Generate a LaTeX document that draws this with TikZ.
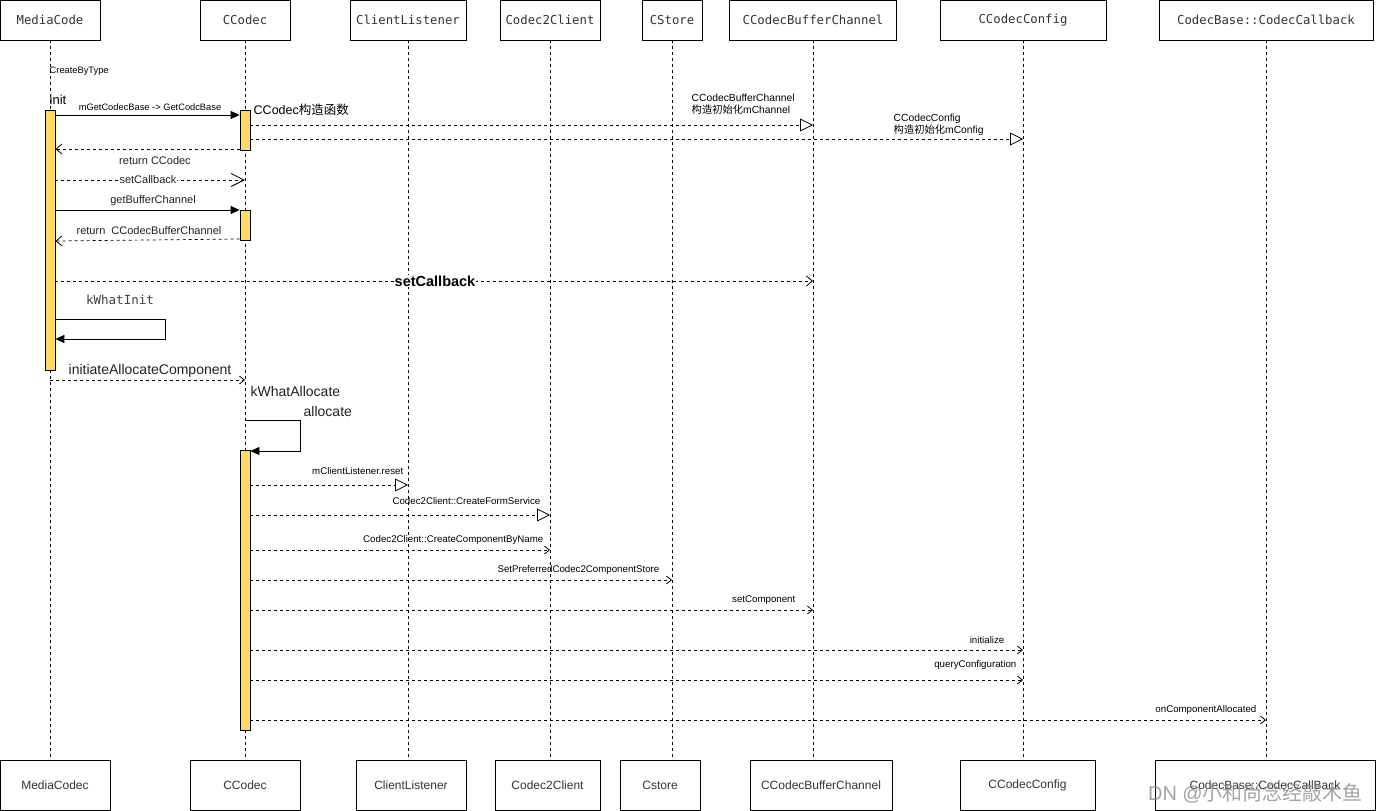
\documentclass[tikz,border=0pt]{standalone}
\usepackage{fontspec}
\setmainfont{Liberation Sans}
\newfontfamily\cjkf{Noto Sans CJK SC}
\newfontfamily\monof{DejaVu Sans Mono}
\usetikzlibrary{arrows.meta}
\definecolor{actY}{HTML}{FFD966}
\definecolor{txt}{HTML}{222222}
\tikzset{
  hdr/.style={draw, line width=0.8pt, minimum height=40pt, inner sep=0pt, font=\monof\fontsize{12.3}{14}\selectfont, text=black!80},
  ftr/.style={draw, line width=0.8pt, minimum height=50pt, inner sep=0pt, font=\fontsize{12}{14}\selectfont, text=black!80},
  life/.style={dash pattern=on 3pt off 3pt, line width=0.6pt},
  act/.style={draw, line width=0.8pt, fill=actY, minimum width=10pt, inner sep=0pt},
  sync/.style={line width=0.8pt, -{Triangle[length=9pt,width=8pt]}},
  dtri/.style={line width=0.7pt, dash pattern=on 3pt off 3pt, -{Triangle[fill=white,length=13pt,width=13pt,line width=0.8pt]}},
  dvee/.style={line width=0.7pt, dash pattern=on 3pt off 3pt, -{Straight Barb[length=6pt,width=10pt,line width=0.8pt]}},
  dveeS/.style={line width=0.7pt, dash pattern=on 3pt off 3pt, -{Straight Barb[length=5pt,width=8pt,line width=0.8pt]}},
  dveeL/.style={line width=0.7pt, dash pattern=on 3pt off 3pt, -{Straight Barb[length=13pt,width=13pt,line width=0.8pt]}},
  lbl/.style={inner sep=0.5pt, text=black, font=\fontsize{9.7}{11}\selectfont},
  lblm/.style={inner sep=0.5pt, text=txt, font=\fontsize{11}{13}\selectfont},
  lblb/.style={inner sep=0.5pt, text=txt, font=\fontsize{14}{16}\selectfont},
}
\begin{document}
\begin{tikzpicture}[x=1pt,y=-1pt]
\useasboundingbox (0,0) rectangle (1376,811);
\fill[white] (0,0) rectangle (1376,811);

% header boxes
\node[hdr, minimum width=100pt] (mcT) at (50,20) {MediaCode};
\node[hdr, minimum width=90pt]  (ccT) at (245,20) {CCodec};
\node[hdr, minimum width=116pt] (clT) at (408,20) {ClientListener};
\node[hdr, minimum width=100pt] (c2T) at (550,20) {Codec2Client};
\node[hdr, minimum width=60pt]  (csT) at (672,20) {CStore};
\node[hdr, minimum width=167pt] (bcT) at (813,20) {CCodecBufferChannel};
\node[hdr, minimum width=166pt] (cfT) at (1023,20) {CCodecConfig};
\node[hdr, minimum width=214pt] (cbT) at (1266,20) {CodecBase::CodecCallback};

% footer boxes
\node[ftr, minimum width=110pt] (mcB) at (55,785) {MediaCodec};
\node[ftr, minimum width=110pt] (ccB) at (245,785) {CCodec};
\node[ftr, minimum width=110pt] (clB) at (411,785) {ClientListener};
\node[ftr, minimum width=105pt] (c2B) at (547.5,785) {Codec2Client};
\node[ftr, minimum width=80pt]  (csB) at (660,785) {Cstore};
\node[ftr, minimum width=142pt] (bcB) at (821,785) {CCodecBufferChannel};
\node[ftr, minimum width=135pt] (cfB) at (1027.5,785) {CCodecConfig};
\node[ftr, minimum width=220pt] (cbB) at (1265,785) {CodecBase::CodecCallBack};

% lifelines
\foreach \t/\b in {mcT/mcB,ccT/ccB,clT/clB,c2T/c2B,csT/csB,bcT/bcB,cfT/cfB,cbT/cbB}{
  \draw[life] (\t.south) -- (\t.south |- \b.north);
}

% activation bars
\node[act, minimum height=260pt] (a1) at (50,240) {};
\node[act, minimum height=40pt]  (a2) at (245,130) {};
\node[act, minimum height=30pt]  (a3) at (245,225) {};
\node[act, minimum height=280pt] (a4) at (245,590) {};

% labels (top part)
\node[lbl, anchor=west, font=\fontsize{9.3}{11}\selectfont] (lCreate) at (49,71) {CreateByType};
\node[inner sep=0.5pt, anchor=west, text=black, font=\fontsize{13}{15}\selectfont] (lInit) at (49,100) {init};

% mGetCodecBase
\draw[sync] (a1.east |- 0,115) -- (a2.west |- 0,115);
\node[lbl, font=\fontsize{9.3}{11}\selectfont] (lGet) at (150,107) {mGetCodecBase -> GetCodcBase};
\node[inner sep=0.5pt, anchor=west, text=black, font=\fontsize{12.5}{14}\selectfont] (lCtor) at (253,110) {CCodec{\cjkf 构造函数}};

% constructors
\draw[dtri] (a2.east |- 0,125) -- (bcT.south |- 0,125);
\node[lbl, anchor=north west, align=left, font=\fontsize{10.3}{12}\selectfont] (lBc) at (691,93) {CCodecBufferChannel\\{\cjkf 构造初始化}mChannel};
\draw[dtri] (a2.east |- 0,139) -- (cfT.south |- 0,139);
\node[lbl, anchor=north west, align=left, font=\fontsize{10.3}{12}\selectfont] (lCf) at (893,113) {CCodecConfig\\{\cjkf 构造初始化}mConfig};

% return CCodec
\draw[dvee] (a2.west |- 0,149) -- (a1.east |- 0,149);
\node[lblm] (lRet) at (155,161) {return CCodec};

% setCallback small
\draw[dveeL] (a1.east |- 0,180) -- (ccT.south |- 0,180);
\node[lblm, fill=white] (lSetCb) at (148,180) {setCallback};

% getBufferChannel
\draw[sync] (a1.east |- 0,210) -- (a3.west |- 0,210);
\node[lblm] (lGbc) at (153,201) {getBufferChannel};
\draw[dvee] (a3.west |- 0,239) -- (a1.east |- 0,241);
\node[lblm] (lRbc) at (149,231) {return\ \ CCodecBufferChannel};

% setCallback big
\draw[dvee] (a1.east |- 0,281) -- (bcT.south |- 0,281);
\node[inner sep=0.5pt, fill=white, text=black, font=\bfseries\fontsize{14.5}{16}\selectfont] (lSetCb2) at (435,281) {setCallback};

% kWhatInit loop
\node[inner sep=0.5pt, text=black!75, font=\monof\fontsize{12.5}{14}\selectfont] (lKwi) at (120,300) {kWhatInit};
\coordinate (k1) at (165,319);
\coordinate (k2) at (165,339);
\draw[sync] (a1.east |- k1) -- (k1) -- (k2) -- (a1.east |- k2);

% initiateAllocateComponent
\draw[dveeS] (mcT.south |- 0,380) -- (ccT.south |- 0,380);
\node[lblb] (lIac) at (150,371) {initiateAllocateComponent};
\node[lblb, anchor=west] (lKwa) at (250,391) {kWhatAllocate};
\node[lblb, anchor=west] (lAlloc) at (303,411) {allocate};

% allocate loop
\coordinate (m1) at (300,420);
\coordinate (m2) at (300,451);
\draw[sync] (ccT.south |- m1) -- (m1) -- (m2) -- (a4.east |- m2);

% allocate messages
\draw[dtri] (a4.east |- 0,485) -- (clT.south |- 0,485);
\node[lbl, anchor=east] (l1) at (404,471) {mClientListener.reset};
\draw[dtri] (a4.east |- 0,515) -- (c2T.south |- 0,515);
\node[lbl, anchor=east] (l2) at (541,501) {Codec2Client::CreateFormService};
\draw[dveeS] (a4.east |- 0,550) -- (c2T.south |- 0,550);
\node[lbl, anchor=east] (l3) at (544,540) {Codec2Client::CreateComponentByName};
\draw[dveeS] (a4.east |- 0,580) -- (csT.south |- 0,580);
\node[lbl, anchor=east] (l4) at (660,570) {SetPreferredCodec2ComponentStore};
\draw[dveeS] (a4.east |- 0,610) -- (bcT.south |- 0,610);
\node[lbl, anchor=east] (l5) at (796,600) {setComponent};
\draw[dveeS] (a4.east |- 0,650) -- (cfT.south |- 0,650);
\node[lbl, anchor=east] (l6) at (1005,640) {initialize};
\draw[dveeS] (a4.east |- 0,680) -- (cfT.south |- 0,680);
\node[lbl, anchor=east] (l7) at (1017,665) {queryConfiguration};
\draw[dveeS] (a4.east |- 0,720) -- (cbT.south |- 0,720);
\node[lbl, anchor=east] (l8) at (1257,710) {onComponentAllocated};

% watermark
\node[inner sep=0pt, anchor=east, text=black!45, opacity=0.8, font=\fontsize{20}{22}\selectfont] (wm) at (1363,793) {DN @{\cjkf 小和尚念经敲木鱼}};
\end{tikzpicture}
\end{document}
